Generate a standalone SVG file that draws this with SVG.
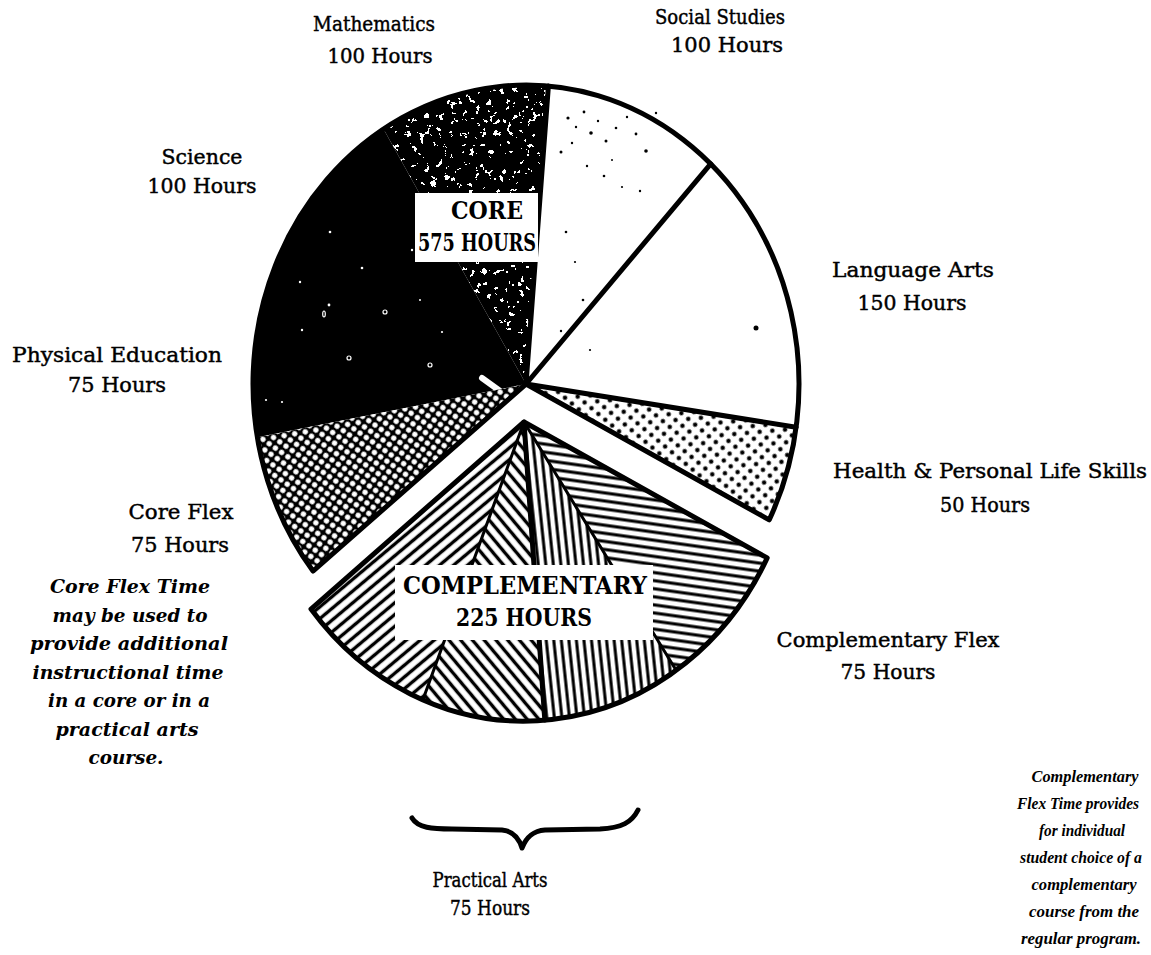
<svg xmlns="http://www.w3.org/2000/svg" width="1151" height="955" viewBox="0 0 1151 955">
<style>
.lbl{font-family:"DejaVu Serif","Liberation Serif",serif;font-size:21px;fill:#000;stroke:#000;stroke-width:0.45;text-anchor:middle}
.nt{font-family:"DejaVu Serif","Liberation Serif",serif;font-style:italic;font-weight:bold;font-size:19px;fill:#000;text-anchor:middle}
.nt2{font-family:"Liberation Serif","DejaVu Serif",serif;font-style:italic;font-weight:bold;font-size:17px;fill:#000;text-anchor:middle}
.big{font-family:"DejaVu Serif","Liberation Serif",serif;font-weight:bold;font-size:25px;fill:#000;text-anchor:middle}
.edge{fill:none;stroke:#000;stroke-width:5;stroke-linejoin:round;stroke-linecap:round}
.div{stroke:#000;stroke-width:5;stroke-linecap:round}
.sub{stroke:#000;stroke-width:3;stroke-linecap:round}
.sp{fill:#000}
.ws{fill:#fff}
.wr{fill:none;stroke:#fff;stroke-width:1.2}
</style>
<defs>
<pattern id="hatchA" patternUnits="userSpaceOnUse" width="9" height="9" patternTransform="rotate(-40)"><rect width="9" height="9" fill="#fff"/><rect y="2.8" width="9" height="3.4" fill="#000"/></pattern>
<pattern id="hatchB" patternUnits="userSpaceOnUse" width="9" height="9" patternTransform="rotate(50)"><rect width="9" height="9" fill="#fff"/><rect y="2.8" width="9" height="3.4" fill="#000"/></pattern>
<pattern id="hatchC" patternUnits="userSpaceOnUse" width="7.5" height="7.5" patternTransform="rotate(84)"><rect width="7.5" height="7.5" fill="#fff"/><rect y="2.2" width="7.5" height="3" fill="#000"/></pattern>
<pattern id="hatchD" patternUnits="userSpaceOnUse" width="8" height="8" patternTransform="rotate(8)"><rect width="8" height="8" fill="#fff"/><rect y="2.4" width="8" height="3.1" fill="#000"/></pattern>
<pattern id="dotsH" patternUnits="userSpaceOnUse" width="9" height="9" patternTransform="rotate(40)"><rect width="9" height="9" fill="#fff"/><circle cx="4.5" cy="4.5" r="2.2" fill="#000"/></pattern>
<pattern id="dotsF" patternUnits="userSpaceOnUse" width="7.6" height="7.6" patternTransform="rotate(35)"><rect width="7.6" height="7.6" fill="#000"/><circle cx="3.8" cy="3.8" r="2.7" fill="#fff"/></pattern>
<filter id="speck" x="0" y="0" width="1" height="1" color-interpolation-filters="sRGB">
<feTurbulence type="fractalNoise" baseFrequency="0.16" numOctaves="3" seed="7"/>
<feColorMatrix type="matrix" values="1 0 0 0 0  1 0 0 0 0  1 0 0 0 0  0 0 0 0 1"/>
<feComponentTransfer><feFuncR type="discrete" tableValues="0 0 0 0 0 0 1 1 1"/><feFuncG type="discrete" tableValues="0 0 0 0 0 0 1 1 1"/><feFuncB type="discrete" tableValues="0 0 0 0 0 0 1 1 1"/></feComponentTransfer>
</filter>
<clipPath id="clipMath"><path d="M526,384 L383.5,129 A273,299 0 0 1 548.4,86 Z"/></clipPath>
</defs>
<rect width="1151" height="955" fill="#fff"/>

<g id="core">
<g id="health"><path d="M526,384 L796.1,427.3 A273,299 0 0 1 769.2,519.9 Z" fill="url(#dotsH)"/></g>
<g id="language-arts"><path d="M526,384 L710.7,163.8 A273,299 0 0 1 796.1,427.3 Z" fill="#fff"/><circle class="sp" cx="756" cy="328" r="2.5"/></g>
<g id="social-studies"><path d="M526,384 L548.4,86 A273,299 0 0 1 710.7,163.8 Z" fill="#fff"/>
<circle class="sp" cx="568" cy="118" r="1.6"/><circle class="sp" cx="576" cy="127" r="1.2"/><circle class="sp" cx="584" cy="112" r="1.4"/><circle class="sp" cx="591" cy="133" r="1.8"/><circle class="sp" cx="598" cy="121" r="1.2"/><circle class="sp" cx="606" cy="141" r="1.5"/><circle class="sp" cx="616" cy="128" r="1.3"/><circle class="sp" cx="572" cy="143" r="1.2"/><circle class="sp" cx="561" cy="152" r="1.5"/><circle class="sp" cx="627" cy="117" r="1.2"/><circle class="sp" cx="636" cy="134" r="1.4"/><circle class="sp" cx="646" cy="151" r="1.8"/><circle class="sp" cx="656" cy="113" r="1.2"/><circle class="sp" cx="587" cy="166" r="1.2"/><circle class="sp" cx="604" cy="176" r="1.3"/><circle class="sp" cx="622" cy="187" r="1.1"/><circle class="sp" cx="566" cy="232" r="1.3"/><circle class="sp" cx="575" cy="262" r="1.1"/><circle class="sp" cx="583" cy="300" r="1.3"/><circle class="sp" cx="561" cy="331" r="1.2"/><circle class="sp" cx="590" cy="350" r="1.1"/><circle class="sp" cx="640" cy="191" r="1.2"/><circle class="sp" cx="612" cy="160" r="1"/>
</g>
<g id="mathematics"><g clip-path="url(#clipMath)"><rect x="380" y="80" width="175" height="310" filter="url(#speck)"/></g></g>
<g id="science-pe"><path d="M526,384 L257.4,437.2 A273,299 0 0 1 383.5,129 Z" fill="#000"/>
<circle class="ws" cx="330" cy="232" r="1.3"/><circle class="ws" cx="302" cy="330" r="1.2"/><circle class="ws" cx="282" cy="402" r="1.1"/><circle class="ws" cx="362" cy="268" r="1.3"/><circle class="ws" cx="412" cy="250" r="1.2"/><circle class="ws" cx="442" cy="332" r="1.1"/><circle class="ws" cx="300" cy="282" r="1.2"/><circle class="ws" cx="329" cy="305" r="1.4"/><circle class="ws" cx="266" cy="400" r="1.1"/><circle class="ws" cx="420" cy="300" r="1"/>
<circle class="wr" cx="385" cy="312" r="2"/><circle class="wr" cx="349" cy="358" r="2"/><ellipse class="wr" cx="324" cy="314" rx="1.3" ry="3"/><circle class="wr" cx="430" cy="365" r="2"/>
<line x1="482" y1="378" x2="500" y2="391" stroke="#fff" stroke-width="6" stroke-linecap="round"/>
</g>
<g id="core-flex"><path d="M526,384 L313,571.1 A273,299 0 0 1 257.4,437.2 Z" fill="url(#dotsF)"/></g>
<line class="div" x1="526" y1="384" x2="796.1" y2="427.3"/>
<line class="div" x1="526" y1="384" x2="710.7" y2="163.8"/>
<line class="div" x1="526" y1="384" x2="548.4" y2="86"/>
<path class="edge" d="M313,571.1 L526,384 L769.2,519.9 A273,299 0 1 0 313,571.1 Z"/>
<g id="core-label"><rect x="415" y="193" width="123" height="69" fill="#fff"/>
<text class="big" x="487" y="219" textLength="72" lengthAdjust="spacingAndGlyphs">CORE</text>
<text class="big" x="477" y="251" textLength="118" lengthAdjust="spacingAndGlyphs">575 HOURS</text></g>
</g>

<g id="complementary">
<g id="comp-a"><path d="M524,422 L422.9,699.7 A273,299 0 0 1 311,609.1 Z" fill="url(#hatchA)"/></g>
<g id="comp-b"><path d="M524,422 L544.8,720.1 A273,299 0 0 1 422.9,699.7 Z" fill="url(#hatchB)"/></g>
<g id="comp-c"><path d="M524,422 L676.1,670.3 A273,299 0 0 1 544.8,720.1 Z" fill="url(#hatchC)"/></g>
<g id="comp-d"><path d="M524,422 L767.2,557.9 A273,299 0 0 1 676.1,670.3 Z" fill="url(#hatchD)"/></g>
<line class="sub" x1="524" y1="422" x2="422.9" y2="699.7"/>
<line class="div" x1="524" y1="422" x2="544.8" y2="720.1"/>
<line class="sub" x1="524" y1="422" x2="676.1" y2="670.3"/>
<path class="edge" d="M524,422 L767.2,557.9 A273,299 0 0 1 311,609.1 Z"/>
<g id="comp-label"><rect x="395" y="565" width="258" height="75" fill="#fff"/>
<text class="big" x="525" y="594" textLength="244" lengthAdjust="spacingAndGlyphs">COMPLEMENTARY</text>
<text class="big" x="524" y="626" textLength="136" lengthAdjust="spacingAndGlyphs">225 HOURS</text></g>
</g>

<g id="connectors">
<path d="M412,818 C418,828 432,829 452,829 L502,830 C513,831 519,838 522,848 C526,838 532,831 545,830 L600,829 C622,828 632,822 638,810" fill="none" stroke="#000" stroke-width="5" stroke-linecap="round" stroke-linejoin="round"/>
</g>

<g id="labels">
<g id="lbl-math"><text class="lbl" x="374" y="31" textLength="122" lengthAdjust="spacingAndGlyphs">Mathematics</text><text class="lbl" x="380" y="63" textLength="105" lengthAdjust="spacingAndGlyphs">100 Hours</text></g>
<g id="lbl-social"><text class="lbl" x="720" y="24" textLength="130" lengthAdjust="spacingAndGlyphs">Social Studies</text><text class="lbl" x="727" y="52" textLength="112" lengthAdjust="spacingAndGlyphs">100 Hours</text></g>
<g id="lbl-science"><text class="lbl" x="202" y="164" textLength="81" lengthAdjust="spacingAndGlyphs">Science</text><text class="lbl" x="202" y="193" textLength="109" lengthAdjust="spacingAndGlyphs">100 Hours</text></g>
<g id="lbl-language"><text class="lbl" x="913" y="277" textLength="162" lengthAdjust="spacingAndGlyphs">Language Arts</text><text class="lbl" x="912" y="310" textLength="109" lengthAdjust="spacingAndGlyphs">150 Hours</text></g>
<g id="lbl-pe"><text class="lbl" x="117" y="362" textLength="210" lengthAdjust="spacingAndGlyphs">Physical Education</text><text class="lbl" x="117" y="392" textLength="98" lengthAdjust="spacingAndGlyphs">75 Hours</text></g>
<g id="lbl-health"><text class="lbl" x="990" y="478" textLength="314" lengthAdjust="spacingAndGlyphs">Health &amp; Personal Life Skills</text><text class="lbl" x="985" y="512" textLength="90" lengthAdjust="spacingAndGlyphs">50 Hours</text></g>
<g id="lbl-coreflex"><text class="lbl" x="181" y="519" textLength="105" lengthAdjust="spacingAndGlyphs">Core Flex</text><text class="lbl" x="180" y="552" textLength="98" lengthAdjust="spacingAndGlyphs">75 Hours</text></g>
<g id="lbl-compflex"><text class="lbl" x="888" y="647" textLength="223" lengthAdjust="spacingAndGlyphs">Complementary Flex</text><text class="lbl" x="888" y="679" textLength="95" lengthAdjust="spacingAndGlyphs">75 Hours</text></g>
<g id="lbl-practical"><text class="lbl" x="490" y="887" textLength="115" lengthAdjust="spacingAndGlyphs">Practical Arts</text><text class="lbl" x="490" y="915" textLength="80" lengthAdjust="spacingAndGlyphs">75 Hours</text></g>
<g id="note-coreflex">
<text class="nt" x="130" y="593" textLength="160" lengthAdjust="spacingAndGlyphs">Core Flex Time</text>
<text class="nt" x="130" y="621.5" textLength="155" lengthAdjust="spacingAndGlyphs">may be used to</text>
<text class="nt" x="129" y="650" textLength="198" lengthAdjust="spacingAndGlyphs">provide additional</text>
<text class="nt" x="128" y="678.5" textLength="191" lengthAdjust="spacingAndGlyphs">instructional time</text>
<text class="nt" x="129" y="707" textLength="162" lengthAdjust="spacingAndGlyphs">in a core or in a</text>
<text class="nt" x="127" y="735.5" textLength="143" lengthAdjust="spacingAndGlyphs">practical arts</text>
<text class="nt" x="126" y="764" textLength="75" lengthAdjust="spacingAndGlyphs">course.</text>
</g>
<g id="note-compflex">
<text class="nt2" x="1085" y="782" textLength="107" lengthAdjust="spacingAndGlyphs">Complementary</text>
<text class="nt2" x="1078" y="809" textLength="122" lengthAdjust="spacingAndGlyphs">Flex Time provides</text>
<text class="nt2" x="1082" y="836" textLength="86" lengthAdjust="spacingAndGlyphs">for individual</text>
<text class="nt2" x="1081" y="863" textLength="122" lengthAdjust="spacingAndGlyphs">student choice of a</text>
<text class="nt2" x="1084" y="890" textLength="105" lengthAdjust="spacingAndGlyphs">complementary</text>
<text class="nt2" x="1084" y="917" textLength="110" lengthAdjust="spacingAndGlyphs">course from the</text>
<text class="nt2" x="1081" y="944" textLength="120" lengthAdjust="spacingAndGlyphs">regular program.</text>
</g>
</g>
</svg>
